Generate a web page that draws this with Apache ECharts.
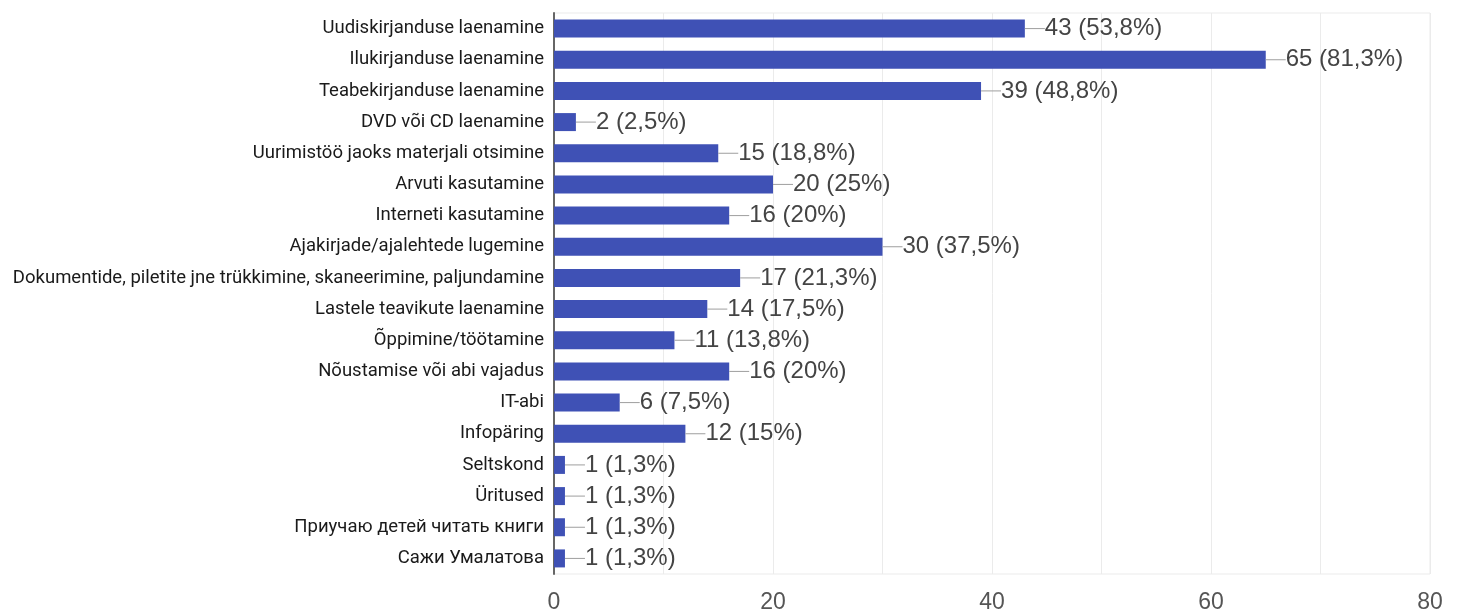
<!DOCTYPE html>
<html><head><meta charset="utf-8">
<script src="https://cdn.jsdelivr.net/npm/echarts@6/dist/echarts.min.js"></script>
<style>html,body{margin:0;padding:0;background:#fff}#c{width:1458px;height:614px}</style>
</head><body><div id="c"></div>
<script>
const categories = [
  "Uudiskirjanduse laenamine",
  "Ilukirjanduse laenamine",
  "Teabekirjanduse laenamine",
  "DVD või CD laenamine",
  "Uurimistöö jaoks materjali otsimine",
  "Arvuti kasutamine",
  "Interneti kasutamine",
  "Ajakirjade/ajalehtede lugemine",
  "Dokumentide, piletite jne trükkimine, skaneerimine, paljundamine",
  "Lastele teavikute laenamine",
  "Õppimine/töötamine",
  "Nõustamise või abi vajadus",
  "IT-abi",
  "Infopäring",
  "Seltskond",
  "Üritused",
  "Приучаю детей читать книги",
  "Сажи Умалатова"
];
const counts = [43, 65, 39, 2, 15, 20, 16, 30, 17, 14, 11, 16, 6, 12, 1, 1, 1, 1];
const percents = ["53,8%", "81,3%", "48,8%", "2,5%", "18,8%", "25%", "20%", "37,5%", "21,3%", "17,5%", "13,8%", "20%", "7,5%", "15%", "1,3%", "1,3%", "1,3%", "1,3%"];
const xTicks = [0, 20, 40, 60, 80];

const chart = echarts.init(document.getElementById('c'));
chart.setOption({
  animation: false,
  grid: { left: 554, right: 28, top: 13, bottom: 39, show: true, borderColor: '#ebebeb', borderWidth: 1 },
  xAxis: {
    type: 'value', min: 0, max: 80, interval: 10,
    axisLine: { show: false }, axisTick: { show: false },
    splitLine: { lineStyle: { color: '#ebebeb', width: 1 } },
    axisLabel: {
      margin: 17, fontFamily: 'Liberation Sans', fontSize: 23, color: '#555',
      formatter: v => xTicks.includes(v) ? String(v) : ''
    }
  },
  yAxis: {
    type: 'category', data: categories, inverse: true,
    axisLine: { show: true, lineStyle: { color: '#666', width: 2 } },
    axisTick: { show: false },
    axisLabel: { margin: 10, fontFamily: 'Roboto', fontSize: 18.5, color: '#1a1a1a' }
  },
  series: [{
    type: 'bar', data: counts, barWidth: 18,
    itemStyle: { color: '#3f51b5' },
    label: {
      show: true, position: 'right', distance: 0,
      formatter: p => '{l|}{v|' + counts[p.dataIndex] + ' (' + percents[p.dataIndex] + ')}',
      rich: {
        l: { width: 20, height: 1, backgroundColor: '#9e9e9e' },
        v: { fontFamily: 'Liberation Sans', fontSize: 24, color: '#444', padding: [0, 0, 0, 0] }
      }
    }
  }]
});
</script>
</body></html>
